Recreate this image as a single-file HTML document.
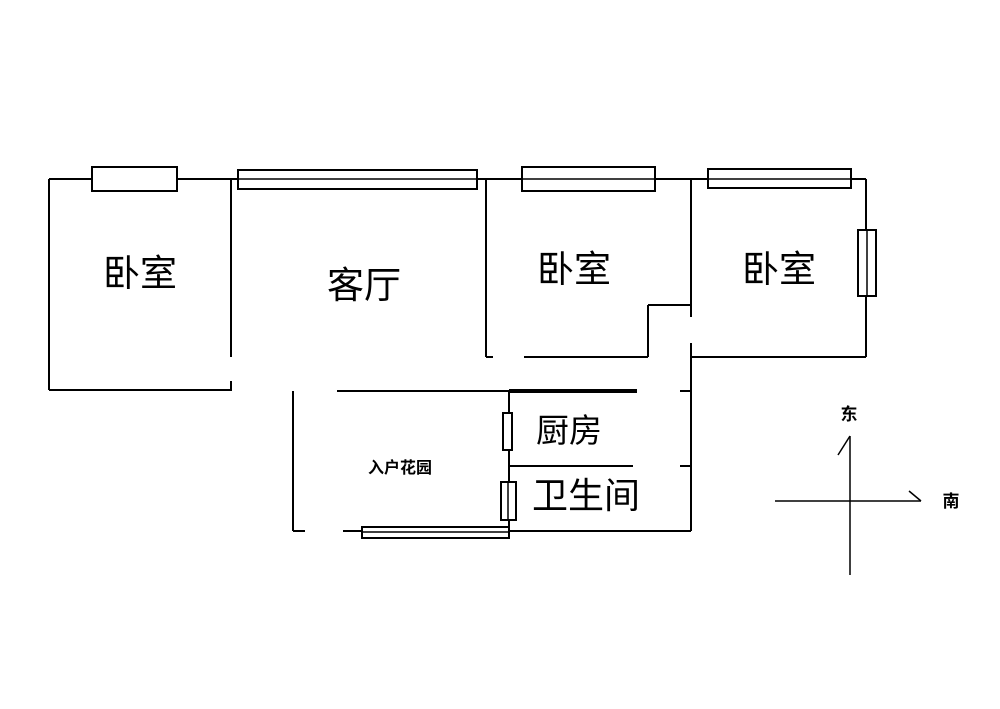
<!DOCTYPE html>
<html><head><meta charset="utf-8"><style>
html,body{margin:0;padding:0;background:#fff;}
svg{display:block;}
text{font-family:"Liberation Sans","Noto Sans CJK SC","WenQuanYi Zen Hei",sans-serif;fill:#000;}
</style></head><body>
<svg width="1000" height="709" viewBox="0 0 1000 709" xmlns="http://www.w3.org/2000/svg">
<rect width="1000" height="709" fill="#fff"/>
<g stroke="#000" stroke-width="2" fill="none">
<!-- top wall -->
<line x1="49" y1="179" x2="866" y2="179"/>
<!-- left room -->
<line x1="49" y1="179" x2="49" y2="390"/>
<line x1="49" y1="390" x2="232" y2="390"/>
<line x1="231" y1="179" x2="231" y2="357"/>
<line x1="231" y1="381" x2="231" y2="390"/>
<line x1="337" y1="391" x2="509" y2="391"/>
<line x1="293" y1="391" x2="293" y2="531"/>
<line x1="293" y1="531" x2="305" y2="531"/>
<line x1="343" y1="531" x2="362" y2="531"/>
<!-- living right wall -->
<line x1="486" y1="179" x2="486" y2="357"/>
<line x1="486" y1="357" x2="493" y2="357"/>
<!-- bedroom 2 bottom -->
<line x1="524" y1="357" x2="648" y2="357"/>
<line x1="648" y1="305" x2="648" y2="357"/>
<line x1="648" y1="305" x2="692" y2="305"/>
<line x1="691" y1="179" x2="691" y2="317"/>
<line x1="691" y1="343" x2="691" y2="531"/>
<!-- bedroom 3 -->
<line x1="866" y1="179" x2="866" y2="357"/>
<line x1="691" y1="357" x2="866" y2="357"/>
<!-- kitchen / bath -->
<line x1="509" y1="391" x2="509" y2="531"/>
<line x1="509" y1="466" x2="633" y2="466"/>
<line x1="680" y1="391" x2="691" y2="391"/>
<line x1="680" y1="466" x2="691" y2="466"/>
<line x1="509" y1="531" x2="691" y2="531"/>
</g>
<line x1="509" y1="391" x2="637" y2="391" stroke="#000" stroke-width="4"/>
<!-- windows -->
<g stroke="#000" stroke-width="2" fill="#fff">
<rect x="92" y="167" width="85" height="24"/>
<rect x="238" y="170" width="239" height="19"/>
<rect x="522" y="167" width="133" height="24"/>
<rect x="708" y="169" width="143" height="19"/>
<rect x="858" y="230" width="18" height="66"/>
<rect x="503" y="413" width="9" height="37"/>
<rect x="501" y="482" width="15" height="38"/>
<rect x="362" y="527" width="147" height="11"/>
</g>
<g stroke="#000" stroke-width="1.5">
<line x1="238" y1="179" x2="477" y2="179"/>
<line x1="522" y1="179" x2="655" y2="179"/>
<line x1="708" y1="179" x2="851" y2="179"/>
<line x1="92" y1="179" x2="177" y2="179" stroke-width="0"/>
<line x1="362" y1="532" x2="509" y2="532"/>
<line x1="867" y1="230" x2="867" y2="296"/>
<line x1="508" y1="482" x2="508" y2="520"/>
</g>
<!-- compass -->
<g stroke="#000" stroke-width="1.5">
<line x1="850" y1="436" x2="850" y2="575"/>
<line x1="775" y1="501" x2="921" y2="501"/>
<line x1="850" y1="436" x2="838" y2="455"/>
<line x1="921" y1="501" x2="909" y2="491"/>
</g>
<!-- labels -->
<text x="140" y="286" font-size="37" text-anchor="middle">卧室</text>
<text x="364" y="298" font-size="37" text-anchor="middle">客厅</text>
<text x="574" y="282" font-size="37" text-anchor="middle">卧室</text>
<text x="779" y="282" font-size="37" text-anchor="middle">卧室</text>
<text x="569" y="442" font-size="33" text-anchor="middle">厨房</text>
<text x="586" y="508" font-size="36" text-anchor="middle">卫生间</text>
<text x="400" y="473" font-size="16" font-weight="bold" text-anchor="middle">入户花园</text>
<text x="849" y="420" font-size="17" font-weight="bold" text-anchor="middle">东</text>
<text x="951" y="507" font-size="17" font-weight="bold" text-anchor="middle">南</text>
</svg>
</body></html>
